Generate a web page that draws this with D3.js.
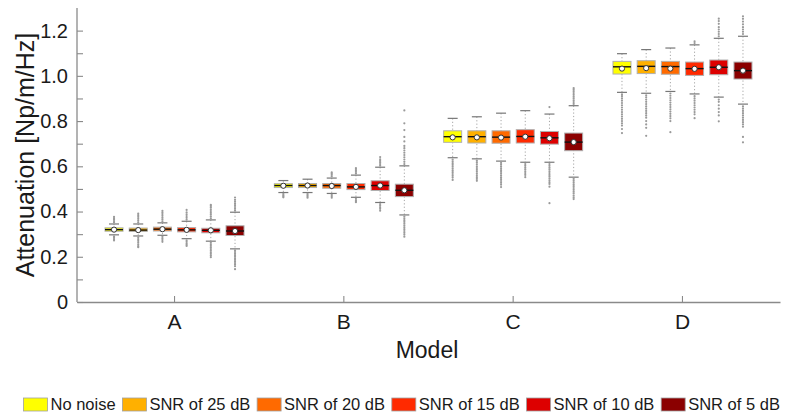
<!DOCTYPE html>
<html>
  <head>
    <meta charset="UTF-8">
    <script src="https://d3js.org/d3.v7.min.js"></script>
    <title>Attenuation boxplot</title>
  </head>
  <body style="margin:0">
    <svg id="f1" height="418" width="787"/>
    <style>
      svg { background: #fff; font-family: "Liberation Sans", Arial, Helvetica, sans-serif; }
    </style>
    <script>
    var models = ["A", "B", "C", "D"];
    var series = ["No noise", "SNR of 25 dB", "SNR of 20 dB", "SNR of 15 dB", "SNR of 10 dB", "SNR of 5 dB"];
    var colors = ["#ffff00", "#ffb000", "#ff6a00", "#ff2a00", "#dd0000", "#8b0000"];
    var yTicks = [0, 0.1, 0.2, 0.3, 0.4, 0.5, 0.6, 0.7, 0.8, 0.9, 1.0, 1.1, 1.2];

    // one row per model, one value per series
    var q1 = [
      [0.313, 0.312, 0.314, 0.310, 0.306, 0.294],
      [0.506, 0.506, 0.503, 0.497, 0.493, 0.466],
      [0.706, 0.703, 0.702, 0.703, 0.698, 0.669],
      [1.008, 1.010, 1.007, 1.002, 1.005, 0.986]
    ];
    var medians = [
      [0.320, 0.318, 0.322, 0.319, 0.317, 0.314],
      [0.515, 0.515, 0.515, 0.509, 0.515, 0.494],
      [0.731, 0.731, 0.729, 0.732, 0.726, 0.707],
      [1.040, 1.042, 1.041, 1.032, 1.038, 1.023]
    ];
    var q3 = [
      [0.328, 0.327, 0.331, 0.329, 0.326, 0.337],
      [0.523, 0.524, 0.524, 0.524, 0.536, 0.521],
      [0.757, 0.757, 0.757, 0.762, 0.754, 0.747],
      [1.064, 1.067, 1.064, 1.061, 1.070, 1.061]
    ];
    var whiskLow = [
      [0.297, 0.292, 0.295, 0.280, 0.269, 0.235],
      [0.484, 0.484, 0.480, 0.463, 0.440, 0.385],
      [0.638, 0.633, 0.623, 0.618, 0.618, 0.552],
      [0.927, 0.923, 0.931, 0.920, 0.906, 0.875]
    ];
    var whiskHigh = [
      [0.345, 0.345, 0.350, 0.357, 0.363, 0.397],
      [0.537, 0.543, 0.548, 0.561, 0.596, 0.602],
      [0.812, 0.819, 0.835, 0.846, 0.831, 0.868],
      [1.098, 1.116, 1.123, 1.137, 1.166, 1.175]
    ];
    var means = [
      [0.320, 0.318, 0.322, 0.319, 0.317, 0.314],
      [0.514, 0.515, 0.513, 0.509, 0.515, 0.494],
      [0.728, 0.728, 0.727, 0.731, 0.724, 0.707],
      [1.032, 1.034, 1.032, 1.031, 1.038, 1.023]
    ];
    var outliers = [
      [
        [0.352, 0.358, 0.365, 0.370, 0.376, 0.290, 0.284, 0.278, 0.272],
        [0.352, 0.360, 0.368, 0.376, 0.384, 0.391, 0.286, 0.278, 0.270, 0.262, 0.254, 0.247, 0.242],
        [0.357, 0.365, 0.373, 0.381, 0.389, 0.396, 0.403, 0.288, 0.281, 0.274, 0.266],
        [0.364, 0.372, 0.380, 0.388, 0.396, 0.407, 0.273, 0.266, 0.259, 0.253, 0.248],
        [0.370, 0.378, 0.386, 0.394, 0.402, 0.410, 0.418, 0.425, 0.430, 0.262, 0.255, 0.248, 0.241, 0.234, 0.227, 0.220, 0.213, 0.206, 0.198],
        [0.404, 0.412, 0.420, 0.428, 0.436, 0.444, 0.452, 0.462, 0.228, 0.221, 0.214, 0.207, 0.200, 0.193, 0.186, 0.179, 0.172, 0.165, 0.158, 0.145]
      ],
      [
        [0.478, 0.472, 0.467, 0.463],
        [0.478, 0.472, 0.466, 0.461],
        [0.555, 0.562, 0.568, 0.573, 0.474, 0.468, 0.461],
        [0.568, 0.575, 0.582, 0.588, 0.592, 0.456, 0.450, 0.445, 0.441],
        [0.603, 0.610, 0.617, 0.624, 0.631, 0.641, 0.433, 0.426, 0.419, 0.412, 0.404],
        [0.610, 0.620, 0.630, 0.640, 0.650, 0.660, 0.670, 0.680, 0.690, 0.710, 0.730, 0.760, 0.790, 0.847,
         0.378, 0.370, 0.362, 0.354, 0.346, 0.338, 0.330, 0.322, 0.314, 0.306, 0.298, 0.289]
      ],
      [
        [0.630, 0.622, 0.614, 0.606, 0.598, 0.590, 0.582, 0.574, 0.566, 0.558, 0.550, 0.540],
        [0.625, 0.617, 0.609, 0.600, 0.592, 0.584, 0.576, 0.568, 0.560, 0.552, 0.544, 0.536],
        [0.615, 0.607, 0.599, 0.591, 0.583, 0.575, 0.567, 0.559, 0.551, 0.543, 0.535, 0.527, 0.519, 0.508],
        [0.610, 0.602, 0.594, 0.586, 0.578, 0.570, 0.562, 0.552],
        [0.862, 0.610, 0.602, 0.594, 0.586, 0.578, 0.570, 0.562, 0.554, 0.546, 0.538, 0.530, 0.522, 0.510, 0.437],
        [0.876, 0.884, 0.892, 0.900, 0.908, 0.916, 0.924, 0.932, 0.940, 0.946,
         0.544, 0.536, 0.528, 0.520, 0.512, 0.504, 0.496, 0.488, 0.480, 0.470, 0.462, 0.455]
      ],
      [
        [0.918, 0.910, 0.900, 0.890, 0.880, 0.870, 0.860, 0.850, 0.840, 0.830, 0.820, 0.810, 0.800, 0.790, 0.780, 0.765, 0.747],
        [0.914, 0.905, 0.895, 0.885, 0.875, 0.865, 0.855, 0.845, 0.835, 0.825, 0.815, 0.800, 0.785, 0.770, 0.735],
        [0.922, 0.912, 0.902, 0.892, 0.882, 0.872, 0.862, 0.852, 0.842, 0.832, 0.822, 0.812, 0.800, 0.751],
        [1.145, 1.153, 0.910, 0.900, 0.890, 0.880, 0.870, 0.860, 0.850, 0.840, 0.830, 0.813],
        [1.175, 1.185, 1.195, 1.205, 1.215, 1.230, 1.242, 1.253, 0.895, 0.885, 0.870, 0.855, 0.840, 0.825, 0.799],
        [1.185, 1.195, 1.205, 1.215, 1.228, 1.240, 1.252, 1.263,
         0.865, 0.855, 0.845, 0.835, 0.825, 0.815, 0.805, 0.795, 0.785, 0.775, 0.730, 0.706]
      ]
    ];

    var svg = d3.select("#f1");
    var plotLeft = 77, plotRight = 780, plotTop = 8, plotBottom = 302;
    var boxW = 18, capW = 10;
    var axisColor = "#8a8a8a";

    var x = d3.scaleBand().domain(models).range([plotLeft, plotRight]).paddingInner(0).paddingOuter(0.076);
    var xs = d3.scalePoint().domain(series).range([-60.5, 60.5]);
    var y = d3.scaleLinear().domain([0, 1.3]).range([plotBottom, plotTop]);

    // axes
    var xAxis = svg.append("g")
      .attr("transform", "translate(0," + plotBottom + ")")
      .call(d3.axisBottom(x).tickSizeInner(-6).tickSizeOuter(0).tickPadding(12));
    var yAxis = svg.append("g")
      .attr("transform", "translate(" + plotLeft + ",0)")
      .call(d3.axisLeft(y).tickValues(yTicks).tickSizeInner(-6).tickSizeOuter(0).tickPadding(9)
        .tickFormat(function(d, i) { return i % 2 == 0 ? (d == 0 ? "0" : d3.format(".1f")(d)) : ""; }));
    [xAxis, yAxis].forEach(function(g) {
      g.select(".domain").attr("stroke", axisColor).attr("stroke-width", 1.3);
      g.selectAll(".tick line").attr("stroke", axisColor).attr("stroke-width", 1.1);
      g.selectAll(".tick text").attr("fill", "#1a1a1a").style("font-family", "Liberation Sans, Arial, sans-serif");
    });
    xAxis.selectAll(".tick text").style("font-size", "21px");
    yAxis.selectAll(".tick text").style("font-size", "20px");
    // y axis line runs up to the top of the plot
    yAxis.select(".domain").attr("d", "M0," + plotTop + "V" + plotBottom);

    svg.append("text")
      .attr("transform", "translate(34," + (plotTop + plotBottom) / 2 + ") rotate(-90)")
      .attr("text-anchor", "middle")
      .attr("fill", "#1a1a1a")
      .style("font-size", "25px")
      .text("Attenuation [Np/m/Hz]");

    svg.append("text")
      .attr("x", 427).attr("y", 358)
      .attr("text-anchor", "middle")
      .attr("fill", "#1a1a1a")
      .style("font-size", "23px")
      .text("Model");

    // boxes
    var boxes = [];
    models.forEach(function(m, i) {
      series.forEach(function(s, j) {
        boxes.push({m: m, s: s, color: colors[j], q1: q1[i][j], med: medians[i][j], q3: q3[i][j],
          lo: whiskLow[i][j], hi: whiskHigh[i][j], mean: means[i][j], out: outliers[i][j],
          cx: x(m) + x.bandwidth() / 2 + xs(s)});
      });
    });

    var g = svg.append("g");
    var b = g.selectAll(".box").data(boxes).enter().append("g").attr("class", "box");

    // whiskers (dotted)
    b.append("line")
      .attr("x1", function(d) { return d.cx; }).attr("x2", function(d) { return d.cx; })
      .attr("y1", function(d) { return y(d.hi); }).attr("y2", function(d) { return y(d.lo); })
      .attr("stroke", "#a5a5a5").attr("stroke-width", 1).attr("stroke-dasharray", "1.2,2.2");
    // caps
    b.selectAll(".cap").data(function(d) { return [{cx: d.cx, v: d.hi}, {cx: d.cx, v: d.lo}]; })
      .enter().append("line")
      .attr("x1", function(d) { return d.cx - capW / 2; }).attr("x2", function(d) { return d.cx + capW / 2; })
      .attr("y1", function(d) { return y(d.v); }).attr("y2", function(d) { return y(d.v); })
      .attr("stroke", "#777").attr("stroke-width", 1.2);
    // outliers
    b.selectAll(".out").data(function(d) { return d.out.map(function(v) { return {cx: d.cx, v: v}; }); })
      .enter().append("circle")
      .attr("cx", function(d) { return d.cx; })
      .attr("cy", function(d) { return y(d.v); })
      .attr("r", 1.1)
      .attr("fill", "#9a9a9a");
    // box
    b.append("rect")
      .attr("x", function(d) { return d.cx - boxW / 2; })
      .attr("y", function(d) { return y(d.q3); })
      .attr("width", boxW)
      .attr("height", function(d) { return y(d.q1) - y(d.q3); })
      .attr("fill", function(d) { return d.color; })
      .attr("stroke", "#b0b0b0").attr("stroke-width", 1);
    // median
    b.append("line")
      .attr("x1", function(d) { return d.cx - boxW / 2; }).attr("x2", function(d) { return d.cx + boxW / 2; })
      .attr("y1", function(d) { return y(d.med); }).attr("y2", function(d) { return y(d.med); })
      .attr("stroke", "#111").attr("stroke-width", 1.4);
    // mean
    b.append("circle")
      .attr("cx", function(d) { return d.cx; })
      .attr("cy", function(d) { return y(d.mean); })
      .attr("r", 2.6)
      .attr("fill", "#fff").attr("stroke", "#333").attr("stroke-width", 1);

    // legend
    var lx = 23.5;
    series.forEach(function(s, j) {
      svg.append("rect")
        .attr("x", lx).attr("y", 398).attr("width", 24).attr("height", 13)
        .attr("fill", colors[j]).attr("stroke", "#a0a0a0").attr("stroke-width", 0.8);
      var t = svg.append("text")
        .attr("x", lx + 27).attr("y", 409.5)
        .attr("fill", "#1a1a1a")
        .style("font-size", "16.5px")
        .text(s);
      lx += 27 + t.node().getComputedTextLength() + 6.8;
    });
    </script>
  </body>
</html>
